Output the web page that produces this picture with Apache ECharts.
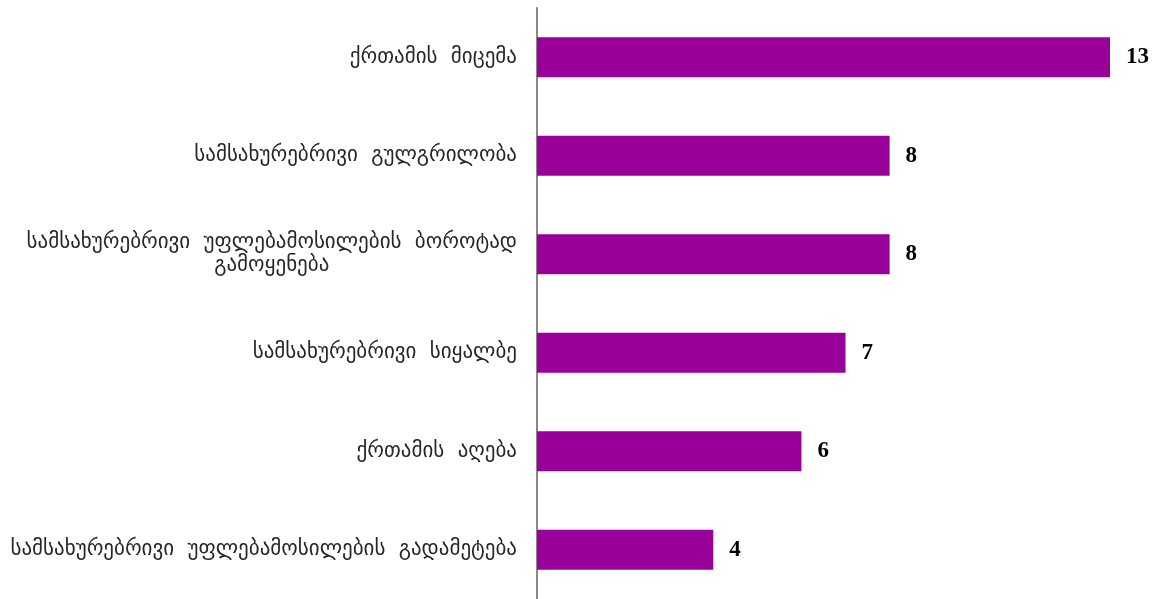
<!DOCTYPE html>
<html>
<head>
<meta charset="utf-8">
<script src="https://cdn.jsdelivr.net/npm/echarts@6/dist/echarts.min.js"></script>
<style>
html,body{margin:0;padding:0;background:#fff;}
#chart{width:1160px;height:599px;}
</style>
</head>
<body>
<div id="chart"></div>
<script>
// Data (top to bottom as displayed)
const categories = [
  'ქრთამის მიცემა',
  'სამსახურებრივი გულგრილობა',
  'სამსახურებრივი უფლებამოსილების ბოროტად\nგამოყენება',
  'სამსახურებრივი სიყალბე',
  'ქრთამის აღება',
  'სამსახურებრივი უფლებამოსილების გადამეტება'
];
const values = [13, 8, 8, 7, 6, 4];

const FS = 21;
const LABEL_FONT = FS + 'px "DejaVu Sans"';
function measure(t) {
  const c = document.createElement('canvas').getContext('2d');
  c.font = LABEL_FONT;
  return c.measureText(t).width;
}
function spaced(t) { return t.replace(/ /g, '  '); }

const chart = echarts.init(document.getElementById('chart'), null, {renderer: 'canvas'});
chart.setOption({
  animation: false,
  backgroundColor: '#ffffff',
  grid: {left: 537, right: 50, top: 8, bottom: 0, containLabel: false},
  xAxis: {
    type: 'value', min: 0, max: 13,
    show: false
  },
  yAxis: {
    type: 'category',
    inverse: true,
    data: categories,
    axisLine: {show: true, lineStyle: {color: '#888888', width: 2}},
    axisTick: {show: false},
    splitLine: {show: false},
    axisLabel: {
      margin: 20,
      color: '#262626',
      fontFamily: 'DejaVu Sans',
      fontSize: FS,
      lineHeight: 23,
      formatter: function (v) {
        const lines = v.split('\n').map(spaced);
        if (lines.length === 1) return lines[0];
        return '{a|' + lines[0] + '}\n{b|' + lines[1] + '}';
      },
      rich: {
        a: {fontFamily: 'DejaVu Sans', fontSize: FS, color: '#262626', lineHeight: 23},
        b: {fontFamily: 'DejaVu Sans', fontSize: FS, color: '#262626', lineHeight: 23, align: 'center',
            width: measure(spaced(categories[2].split('\n')[0]))}
      }
    }
  },
  series: [{
    type: 'bar',
    data: values,
    barWidth: 40,
    itemStyle: {color: '#990099'},
    label: {
      show: true,
      position: 'right',
      distance: 16,
      color: '#000000',
      fontFamily: 'Liberation Serif',
      fontWeight: 'bold',
      fontSize: 23
    }
  }]
});
</script>
</body>
</html>
